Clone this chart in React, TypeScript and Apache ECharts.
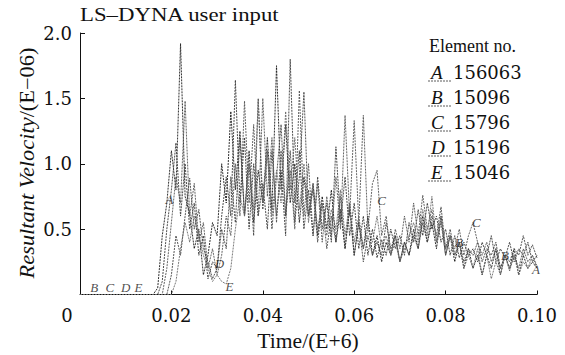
import React, { useEffect, useRef } from "react";
import * as echarts from "echarts";

// Sampling grid of the curves (s, scaled E+6), 0.015 .. 0.100 step 0.001
const T_START = 0.015;
const T_STEP = 0.001;

const SERIES_NAMES = ["A", "B", "C", "D", "E"];
const ELEMENT_NOS = ["156063", "15096", "15796", "15196", "15046"];

const velA = [
  0, 0, 0.05, 0.45, 0.7, 1.1, 0.8, 1.92, 0.75, 0.62,
  0.35, 0.5, 0.15, 0.3, 0.55, 0.45, 1.0, 0.7, 1.4, 0.8,
  1.25, 0.6, 1.1, 0.55, 0.95, 0.7, 1.2, 0.65, 1.75, 0.8,
  1.3, 0.7, 1.0, 0.55, 0.9, 0.6, 0.85, 0.45, 0.75, 0.5,
  0.8, 0.4, 0.65, 0.35, 0.7, 0.3, 0.55, 0.35, 0.6, 0.3,
  0.45, 0.25, 0.4, 0.3, 0.45, 0.25, 0.4, 0.3, 0.5, 0.35,
  0.6, 0.4, 0.55, 0.35, 0.6, 0.3, 0.45, 0.25, 0.4, 0.2,
  0.35, 0.2, 0.3, 0.15, 0.3, 0.2, 0.35, 0.15, 0.3, 0.2,
  0.35, 0.15, 0.3, 0.2, 0.25, 0.2,
];
const velB = [
  0, 0, 0, 0.1, 0.5, 0.8, 1.16, 0.6, 1.0, 0.5,
  0.7, 0.3, 0.45, 0.12, 0.25, 0.2, 0.6, 0.9, 0.6, 1.64,
  0.7, 1.2, 0.5, 1.0, 0.6, 0.85, 0.5, 1.1, 0.6, 0.95,
  0.45, 1.8, 0.7, 1.1, 0.5, 0.8, 0.45, 0.9, 0.5, 0.7,
  0.4, 1.13, 0.55, 0.9, 0.45, 0.7, 0.35, 0.6, 0.3, 0.5,
  0.28, 0.42, 0.3, 0.5, 0.35, 0.45, 0.3, 0.55, 0.4, 0.65,
  0.45, 0.7, 0.5, 0.6, 0.4, 0.5, 0.3, 0.45, 0.28, 0.4,
  0.3, 0.35, 0.25, 0.4, 0.3, 0.45, 0.25, 0.35, 0.28, 0.4,
  0.25, 0.35, 0.3, 0.4, 0.25, 0.3,
];
const velC = [
  0, 0, 0, 0, 0.2, 0.55, 0.9, 0.7, 1.48, 0.6,
  0.85, 0.4, 0.55, 0.2, 0.35, 0.15, 0.3, 0.6, 0.45, 1.0,
  0.6, 1.48, 0.7, 1.3, 0.6, 1.5, 0.75, 1.2, 0.55, 1.1,
  0.6, 0.95, 0.5, 1.56, 0.6, 1.0, 0.45, 0.85, 0.4, 0.75,
  0.45, 0.9, 0.5, 1.37, 0.6, 1.33, 0.55, 1.37, 0.5, 0.85,
  0.95, 0.45, 0.6, 0.3, 0.5, 0.35, 0.6, 0.4, 0.7, 0.45,
  0.76, 0.5, 0.65, 0.4, 0.55, 0.3, 0.45, 0.35, 0.5, 0.3,
  0.45, 0.55, 0.4, 0.3, 0.4, 0.25, 0.35, 0.2, 0.3, 0.18,
  0.3, 0.2, 0.35, 0.25, 0.3, 0.2,
];
const velD = [
  0, 0, 0, 0, 0, 0.15, 0.45, 0.3, 0.6, 0.89,
  0.5, 0.65, 0.35, 0.25, 0.12, 0.2, 0.5, 0.35, 0.9, 0.55,
  1.2, 0.6, 1.0, 0.45, 1.5, 0.65, 1.1, 0.5, 0.9, 1.3,
  0.6, 1.1, 0.55, 0.9, 1.55, 0.6, 0.8, 0.4, 0.7, 0.35,
  0.6, 0.4, 0.75, 0.35, 0.65, 0.3, 0.55, 0.25, 0.45, 0.3,
  0.4, 0.3, 0.55, 0.35, 0.45, 0.25, 0.4, 0.3, 0.45, 0.35,
  0.55, 0.4, 0.6, 0.45, 0.67, 0.35, 0.5, 0.3, 0.4, 0.25,
  0.35, 0.3, 0.4, 0.25, 0.35, 0.3, 0.4, 0.2, 0.3, 0.25,
  0.35, 0.3, 0.45, 0.3, 0.38, 0.28,
];
const velE = [
  0, 0, 0, 0, 0, 0, 0.1, 0.35, 0.55, 0.4,
  0.6, 0.45, 0.3, 0.2, 0.1, 0.15, 0.1, 0.08, 0.2, 0.5,
  0.75, 0.6, 1.0, 0.65, 1.48, 0.7, 1.1, 0.6, 0.95, 0.7,
  1.4, 0.8, 1.2, 0.65, 1.0, 0.55, 0.85, 0.5, 0.7, 0.45,
  0.65, 0.5, 0.8, 0.45, 0.7, 0.4, 0.6, 0.35, 0.5, 0.4,
  0.6, 0.35, 0.45, 0.3, 0.4, 0.25, 0.35, 0.45, 0.55, 0.4,
  0.65, 0.45, 0.75, 0.4, 0.6, 0.35, 0.45, 0.3, 0.4, 0.2,
  0.3, 0.2, 0.35, 0.15, 0.3, 0.12, 0.25, 0.15, 0.3, 0.2,
  0.3, 0.15, 0.25, 0.2, 0.3, 0.22,
];
const VELOCITIES = [velA, velB, velC, velD, velE];
const LINE_COLORS = ["#1a1a1a", "#3a3a3a", "#555555", "#444444", "#6a6a6a"];

// curve annotation letters
const annX = [0.0031, 0.0065, 0.0100, 0.0128, 0.0196, 0.0305, 0.0327, 0.0660, 0.0867, 0.0830, 0.0930, 0.0998];
const annY = [0.05, 0.05, 0.05, 0.05, 0.73, 0.24, 0.06, 0.72, 0.55, 0.40, 0.30, 0.19];
const annText = ["B", "C", "D", "E", "A", "D", "E", "C", "C", "B", "B", "A"];

const X_TICKS = [0, 0.02, 0.04, 0.06, 0.08, 0.1];
const Y_TICKS = [0.5, 1.0, 1.5, 2.0];

const SERIF = "'Liberation Serif', 'Times New Roman', serif";
const WIDE = "'DejaVu Serif', 'Liberation Serif', serif";

export default function App() {
  const ref = useRef<HTMLDivElement>(null);
  useEffect(() => {
    document.body.style.margin = "0";
    if (!ref.current) return;
    const chart = echarts.init(ref.current, null, { renderer: "svg" });

    const lineSeries = VELOCITIES.map((vals, k) => ({
      type: "line",
      name: SERIES_NAMES[k],
      showSymbol: false,
      symbol: "none",
      data: [[0, 0], ...vals.map((v, i) => [+(T_START + i * T_STEP).toFixed(3), v])],
      lineStyle: { color: LINE_COLORS[k], width: 0.9, type: [2, 1] },
      z: 2,
    }));

    const legendGraphics: any[] = [
      {
        type: "text",
        x: 429,
        y: 46,
        style: { text: "Element no.", font: `18px ${SERIF}`, fill: "#111", verticalAlign: "middle" },
      },
    ];
    SERIES_NAMES.forEach((n, k) => {
      const cy = 72 + k * 25;
      legendGraphics.push({
        type: "text",
        x: 431,
        y: cy,
        style: {
          text: n,
          font: `italic 19px ${SERIF}`,
          fill: "#111",
          verticalAlign: "middle",
        },
      });
      legendGraphics.push({
        type: "line",
        shape: { x1: 428, y1: cy + 9, x2: 452, y2: cy + 9 },
        style: { stroke: "#333", lineWidth: 0.8, lineDash: [2, 1] },
      });
      legendGraphics.push({
        type: "text",
        x: 453,
        y: cy,
        style: {
          text: ELEMENT_NOS[k],
          font: `18px ${WIDE}`,
          fill: "#111",
          verticalAlign: "middle",
        },
      });
    });

    chart.setOption({
      animation: false,
      backgroundColor: "#fff",
      grid: { left: 80, right: 28, top: 33, bottom: 60.5, containLabel: false },
      xAxis: {
        type: "value",
        min: 0,
        max: 0.1,
        interval: 0.02,
        axisLine: { show: true, onZero: false, lineStyle: { color: "#111", width: 1 } },
        axisTick: { show: true, inside: true, length: 4, lineStyle: { color: "#111" } },
        splitLine: { show: false },
        axisLabel: {
          margin: 12,
          color: "#111",
          fontFamily: WIDE,
          fontSize: 18,
          formatter: (v: number) => {
            const idx = X_TICKS.findIndex((t) => Math.abs(t - v) < 1e-9);
            if (idx === 0) return "{o|0}";
            return v.toFixed(2);
          },
          rich: { o: { padding: [0, 26, 0, 0], fontFamily: WIDE, fontSize: 18, color: "#111" } },
        },
      },
      yAxis: {
        type: "value",
        min: 0,
        max: 2,
        interval: 0.5,
        axisLine: { show: true, lineStyle: { color: "#111", width: 1 } },
        axisTick: { show: true, inside: true, length: 5, lineStyle: { color: "#111" } },
        splitLine: { show: false },
        axisLabel: {
          margin: 8,
          color: "#111",
          fontFamily: WIDE,
          fontSize: 18,
          formatter: (v: number) => (Y_TICKS.some((t) => Math.abs(t - v) < 1e-9) ? v.toFixed(1) : ""),
        },
      },
      series: [
        ...lineSeries,
        {
          type: "scatter",
          symbolSize: 0,
          silent: true,
          data: annX.map((x, i) => ({ value: [x, annY[i]], name: annText[i] })),
          label: {
            show: true,
            position: "inside",
            formatter: (p: any) => p.name,
            fontFamily: SERIF,
            fontStyle: "italic",
            fontSize: 13,
            color: "#222",
          },
          z: 5,
        },
      ],
      graphic: [
        {
          type: "text",
          x: 80,
          y: 15,
          scaleX: 1.2,
          style: {
            text: "LS\u2013DYNA user input",
            font: `19px ${SERIF}`,
            fill: "#111",
            verticalAlign: "middle",
          },
        },
        ...legendGraphics,
        {
          type: "text",
          x: 27,
          y: 163,
          rotation: Math.PI / 2,
          scaleX: 1.12,
          style: {
            text: "{i|Resultant Velocity}{n|/(E\u221206)}",
            align: "center",
            verticalAlign: "middle",
            rich: {
              i: { font: `italic 20px ${SERIF}`, fill: "#111" },
              n: { font: `20px ${SERIF}`, fill: "#111" },
            },
          },
        },
        {
          type: "text",
          x: 308,
          y: 341,
          scaleX: 1.08,
          style: {
            text: "Time/(E+6)",
            font: `20px ${SERIF}`,
            fill: "#111",
            align: "center",
            verticalAlign: "middle",
          },
        },
      ],
    });
    return () => chart.dispose();
  }, []);
  return <div ref={ref} style={{ width: 565, height: 355 }} />;
}
